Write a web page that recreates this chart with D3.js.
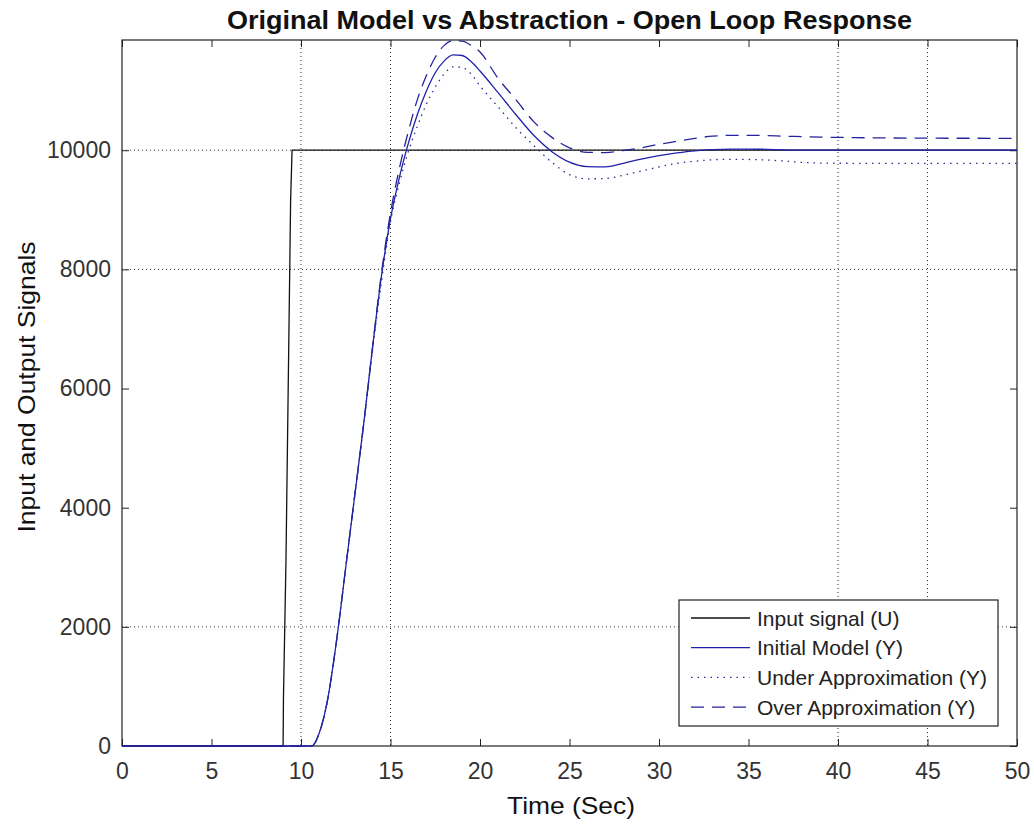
<!DOCTYPE html>
<html>
<head>
<meta charset="utf-8">
<script src="https://cdn.jsdelivr.net/npm/d3@7"></script>
<style>
  body { margin: 0; background: #fff; }
  svg { font-family: "Liberation Sans", Arial, sans-serif; }
</style>
</head>
<body>
<div id="chart-area"></div>
<script>
// time axis for the input step
const inputTime = [0, 9.0, 9.02, 9.16, 9.42, 9.5, 50]
const inputSignal = [0, 0, 800, 3100, 9150, 10000, 10000]

// time axis shared by the three model responses
const modelTime = [0, 10.6, 11, 11.5, 12, 12.5, 13, 13.5, 14, 14.5, 15, 15.5, 16, 16.5, 17, 17.5, 18, 18.5, 19, 19.5, 20,
    21, 22, 23, 24, 25, 26, 27, 28, 29, 30, 31, 32, 33, 34, 35, 36, 37, 38, 39, 40, 42, 45, 50]

const initialModel = [0, 0, 200, 800, 1800, 3000, 4200, 5400, 6700, 7900, 8850, 9550, 10120, 10600, 10990, 11300, 11500, 11600, 11590, 11490, 11330,
    10970, 10600, 10250, 9980, 9800, 9725, 9720, 9780, 9850, 9910, 9955, 9990, 10010, 10020, 10020, 10015, 10005, 10000, 10000, 10000, 10000, 10000, 10000]

const underApprox = [0, 0, 200, 800, 1800, 3000, 4200, 5400, 6650, 7800, 8800, 9450, 9980, 10400, 10770, 11060, 11280, 11400, 11390, 11280, 11080,
    10730, 10380, 10080, 9800, 9590, 9520, 9525, 9580, 9650, 9720, 9780, 9815, 9840, 9848, 9845, 9835, 9818, 9795, 9785, 9782, 9780, 9780, 9780]

const overApprox = [0, 0, 200, 800, 1800, 3000, 4200, 5400, 6700, 7950, 8950, 9700, 10320, 10850, 11250, 11560, 11760, 11840, 11830, 11760, 11650,
    11210, 10850, 10480, 10220, 10040, 9965, 9960, 9995, 10040, 10100, 10150, 10200, 10235, 10250, 10250, 10245, 10235, 10228, 10220, 10215, 10208, 10202, 10200]

const xTicks = [0, 5, 10, 15, 20, 25, 30, 35, 40, 45, 50]
const yTicks = [0, 2000, 4000, 6000, 8000, 10000]
const xGrid = [10, 15, 40, 45]
const yGrid = [2000, 8000, 10000]

const legendLabels = ["Input signal (U)", "Initial Model (Y)", "Under Approximation (Y)", "Over Approximation (Y)"]

const margin = {left: 122, right: 17, top: 40, bottom: 80}
const width = 1034 - margin.left - margin.right
const height = 826 - margin.top - margin.bottom

const svg = d3.select("#chart-area").append("svg")
    .attr("width", 1034)
    .attr("height", 826)

const g = svg.append("g")
    .attr("transform", `translate(${margin.left}, ${margin.top})`)

const x = d3.scaleLinear().domain([0, 50]).range([0, width])
const y = d3.scaleLinear().domain([0, 11850]).range([height, 0])

// dotted grid
g.selectAll(".gx").data(xGrid).enter().append("line")
    .attr("x1", d => x(d)).attr("x2", d => x(d))
    .attr("y1", 0).attr("y2", height)
    .attr("stroke", "#333").attr("stroke-width", 1)
    .attr("stroke-dasharray", "1,3")

g.selectAll(".gy").data(yGrid).enter().append("line")
    .attr("x1", 0).attr("x2", width)
    .attr("y1", d => y(d)).attr("y2", d => y(d))
    .attr("stroke", "#333").attr("stroke-width", 1)
    .attr("stroke-dasharray", "1,3")

// axes, ticks inward on all four sides
const tickLen = 7
const xAxisB = g.append("g").attr("transform", `translate(0, ${height})`)
    .call(d3.axisBottom(x).tickValues(xTicks).tickSizeInner(-tickLen).tickSizeOuter(0).tickPadding(17))
const xAxisT = g.append("g")
    .call(d3.axisTop(x).tickValues(xTicks).tickSizeInner(-tickLen).tickSizeOuter(0).tickFormat(""))
const yAxisL = g.append("g")
    .call(d3.axisLeft(y).tickValues(yTicks).tickFormat(d3.format("d")).tickSizeInner(-tickLen).tickSizeOuter(0).tickPadding(11))
const yAxisR = g.append("g").attr("transform", `translate(${width}, 0)`)
    .call(d3.axisRight(y).tickValues(yTicks).tickSizeInner(-tickLen).tickSizeOuter(0).tickFormat(""))

for (const ax of [xAxisB, xAxisT, yAxisL, yAxisR]) {
    ax.select(".domain").remove()
    ax.selectAll("line").attr("stroke", "#222")
    ax.selectAll("text").attr("font-size", "23px").attr("fill", "#333")
        .attr("font-family", "Liberation Sans, Arial, sans-serif")
}

// plot box
g.append("rect")
    .attr("width", width).attr("height", height)
    .attr("fill", "none").attr("stroke", "#222").attr("stroke-width", 1.2)

const line = d3.line()
    .x(d => x(d[0]))
    .y(d => y(d[1]))
    .curve(d3.curveMonotoneX)

const stepLine = d3.line()
    .x(d => x(d[0]))
    .y(d => y(d[1]))

const series = [
    {t: inputTime, v: inputSignal, color: "#111", dash: null, gen: stepLine},
    {t: modelTime, v: initialModel, color: "#2020aa", dash: null, gen: line},
    {t: modelTime, v: underApprox, color: "#2a2a92", dash: "1.5,5", gen: line},
    {t: modelTime, v: overApprox, color: "#24249c", dash: "13,8", gen: line}
]

series.forEach(s => {
    g.append("path")
        .datum(s.t.map((t, i) => [t, s.v[i]]))
        .attr("fill", "none")
        .attr("stroke", s.color)
        .attr("stroke-width", 1.3)
        .attr("stroke-dasharray", s.dash)
        .attr("d", s.gen)
})

// legend
const legend = svg.append("g").attr("transform", "translate(679, 600)")
legend.append("rect")
    .attr("width", 319).attr("height", 126)
    .attr("fill", "#fff").attr("stroke", "#222").attr("stroke-width", 1.2)

legendLabels.forEach((label, i) => {
    const ly = 18 + i * 29.7
    legend.append("line")
        .attr("x1", 12).attr("x2", 71)
        .attr("y1", ly).attr("y2", ly)
        .attr("stroke", series[i].color).attr("stroke-width", 1.3)
        .attr("stroke-dasharray", series[i].dash)
    legend.append("text")
        .attr("x", 78).attr("y", ly)
        .attr("dy", "0.36em")
        .attr("font-size", "21px")
        .attr("fill", "#222")
        .text(label)
})

// title
svg.append("text")
    .attr("x", margin.left + width / 2)
    .attr("y", 29)
    .attr("text-anchor", "middle")
    .attr("font-size", "26px")
    .attr("font-weight", "bold")
    .attr("fill", "#111")
    .attr("textLength", 685)
    .attr("lengthAdjust", "spacingAndGlyphs")
    .text("Original Model vs Abstraction - Open Loop Response")

// X Label
svg.append("text")
    .attr("x", 571)
    .attr("y", 814)
    .attr("text-anchor", "middle")
    .attr("font-size", "24px")
    .attr("fill", "#111")
    .attr("textLength", 128)
    .attr("lengthAdjust", "spacingAndGlyphs")
    .text("Time (Sec)")

// Y Label
svg.append("text")
    .attr("transform", "rotate(-90)")
    .attr("x", -387)
    .attr("y", 35)
    .attr("text-anchor", "middle")
    .attr("font-size", "24px")
    .attr("fill", "#111")
    .attr("textLength", 291)
    .attr("lengthAdjust", "spacingAndGlyphs")
    .text("Input and Output Signals")
</script>
</body>
</html>
